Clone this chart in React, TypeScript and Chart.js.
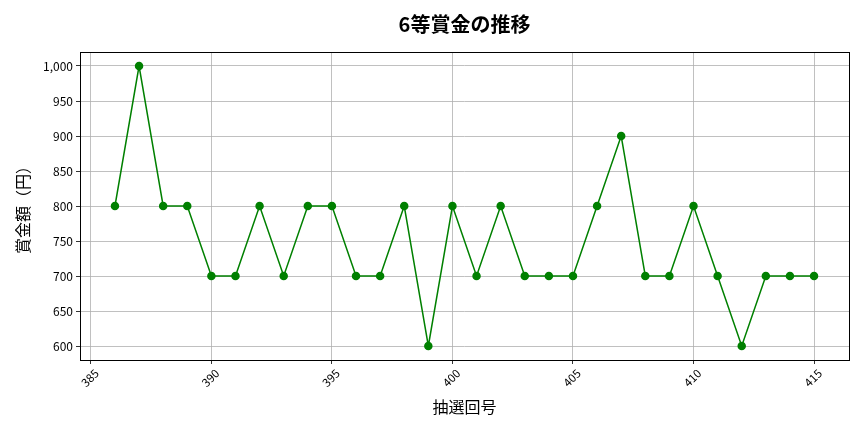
import { useEffect, useRef } from 'react';
import { Chart, registerables, type ChartConfiguration, type Plugin } from 'chart.js';

Chart.register(...registerables);

const DRAWS = [386, 387, 388, 389, 390, 391, 392, 393, 394, 395, 396, 397, 398, 399, 400,
  401, 402, 403, 404, 405, 406, 407, 408, 409, 410, 411, 412, 413, 414, 415];
const PRIZES = [800, 1000, 800, 800, 700, 700, 800, 700, 800, 800, 700, 700, 800, 600, 800,
  700, 800, 700, 700, 700, 800, 900, 700, 700, 800, 700, 600, 700, 700, 700];
const X_TICKS = [385, 390, 395, 400, 405, 410, 415];
const Y_TICKS = [600, 650, 700, 750, 800, 850, 900, 950, 1000];

const TITLE = '6等賞金の推移';
const FONT = '"Noto Sans CJK JP", "Noto Sans", sans-serif';

// 枠線・タイトル・x軸ラベル（45度回転、中央揃え）
const framePlugin: Plugin = {
  id: 'frame',
  afterDraw(chart) {
    const { ctx, chartArea: a } = chart;
    const xs = chart.scales.x;
    ctx.save();
    ctx.strokeStyle = '#000';
    ctx.lineWidth = 1;
    ctx.strokeRect(a.left + 0.5, a.top + 0.5, a.right - a.left, a.bottom - a.top);
    ctx.fillStyle = '#000';
    ctx.font = `bold 20px ${FONT}`;
    ctx.textAlign = 'center';
    ctx.textBaseline = 'middle';
    ctx.fillText(TITLE, (a.left + a.right) / 2, 24);

    ctx.font = `11.5px ${FONT}`;
    for (const v of X_TICKS) {
      ctx.save();
      ctx.translate(xs.getPixelForValue(v) - 1, a.bottom + 18);
      ctx.rotate(-Math.PI / 4);
      ctx.fillText(String(v), 0, 0);
      ctx.restore();
    }
    ctx.restore();
  },
};

export default function App() {
  const canvasRef = useRef<HTMLCanvasElement>(null);
  const chartRef = useRef<Chart | null>(null);

  useEffect(() => {
    if (!canvasRef.current) return;
    chartRef.current?.destroy();

    const config: ChartConfiguration = {
      type: 'line',
      data: {
        datasets: [{
          data: DRAWS.map((d, i) => ({ x: d, y: PRIZES[i] })),
          borderColor: '#008000',
          backgroundColor: '#008000',
          borderWidth: 1.5,
          pointRadius: 3.5,
          pointHoverRadius: 3.5,
          tension: 0,
        }],
      },
      plugins: [framePlugin],
      options: {
        responsive: false,
        animation: false,
        layout: { padding: { top: 52, right: 15, left: 0, bottom: 0 } },
        plugins: { legend: { display: false }, tooltip: { enabled: false }, title: { display: false } },
        scales: {
          x: {
            type: 'linear',
            min: 384.55,
            max: 416.45,
            afterBuildTicks: (s) => { s.ticks = X_TICKS.map(v => ({ value: v })); },
            afterFit: (s) => { s.height = 72; },
            grid: { color: '#b0b0b0', lineWidth: 0.8, tickLength: 4, tickColor: '#000' },
            border: { display: false },
            ticks: { display: false },
            title: {
              display: true, text: '抽選回号', color: '#000',
              font: { family: FONT, size: 16 },
              padding: { top: 4, bottom: 15 },
            },
          },
          y: {
            min: 580,
            max: 1020,
            afterBuildTicks: (s) => { s.ticks = Y_TICKS.map(v => ({ value: v })); },
            afterFit: (s) => { s.width = 80; },
            grid: { color: '#b0b0b0', lineWidth: 0.8, tickLength: 4, tickColor: '#000' },
            border: { display: false },
            ticks: {
              color: '#000', padding: 3,
              font: { family: FONT, size: 12 },
              callback: (v) => Number(v).toLocaleString('en-US'),
            },
            title: {
              display: true, text: '賞金額（円）', color: '#000',
              font: { family: FONT, size: 16 },
              padding: { top: 13, bottom: 0 },
            },
          },
        },
      },
    };
    chartRef.current = new Chart(canvasRef.current, config);

    return () => { chartRef.current?.destroy(); chartRef.current = null; };
  }, []);

  return (
    <div style={{ position: 'absolute', left: 0, top: 0, width: 864, height: 432, background: '#fff' }}>
      <canvas ref={canvasRef} width={864} height={432} />
    </div>
  );
}
